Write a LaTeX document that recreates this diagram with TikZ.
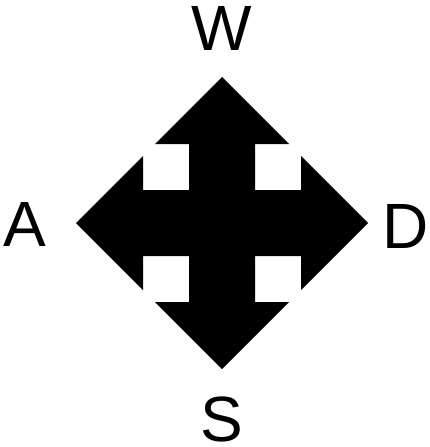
\documentclass[tikz,border=0pt]{standalone}
\usepackage{fontspec}
\setmainfont{Liberation Sans}
\begin{document}
\begin{tikzpicture}[x=1pt, y=-1pt,
                    key/.style={inner sep=0pt, font=\fontsize{64}{64}\selectfont}
                ]
                \useasboundingbox (0,0) rectangle (429,447);
                % croix de fleches
                \fill[black, shift={(222,223)}] (0,-146) -- (67,-79) -- (33,-79) -- (33,-33) -- (79,-33) -- (79,-67)
                    -- (146,0) -- (79,67) -- (79,33) -- (33,33) -- (33,79) -- (67,79)
                    -- (0,146) -- (-67,79) -- (-33,79) -- (-33,33) -- (-79,33) -- (-79,67)
                    -- (-146,0) -- (-79,-67) -- (-79,-33) -- (-33,-33) -- (-33,-79) -- (-67,-79) -- cycle;
                
                \node[key] (up) at (222,28.5) {W};
                \node[key] (left) at (24.5,224) {A};
                \node[key] (right) at (406,226.5) {D};
                \node[key] (down) at (222,419) {S};
                \end{tikzpicture}
\end{document}
